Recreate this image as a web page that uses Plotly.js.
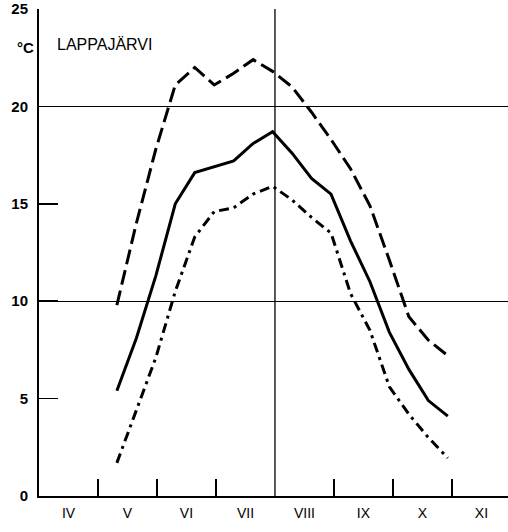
<!DOCTYPE html>
<html>
<head>
<meta charset="utf-8">
<script src="https://cdn.plot.ly/plotly-3.0.1.min.js"></script>
<style>html,body{margin:0;padding:0;background:#fff;}#chart{width:508px;height:532px;}</style>
</head>
<body>
<div id="chart"></div>
<script>
// x positions in month units (4 = 1 April, 5 = 1 May, ...), ends of ten-day periods
var xPos = [5.32, 5.65, 5.98, 6.31, 6.64, 6.97, 7.30, 7.63, 7.96, 8.29, 8.62, 8.95, 9.28, 9.61, 9.94, 10.27, 10.60, 10.93];
var tMax  = [9.8, 14.0, 17.8, 21.1, 22.0, 21.1, 21.7, 22.4, 21.8, 21.0, 19.7, 18.3, 16.8, 14.9, 12.1, 9.2, 8.0, 7.2];
var tMean = [5.4, 8.1, 11.3, 15.0, 16.6, 16.9, 17.2, 18.1, 18.7, 17.6, 16.3, 15.5, 13.1, 11.0, 8.4, 6.5, 4.9, 4.1];
var tMin  = [1.7, 4.4, 7.1, 10.5, 13.3, 14.6, 14.8, 15.5, 15.9, 15.2, 14.3, 13.5, 10.4, 8.5, 5.6, 4.2, 3.0, 1.95];

var monthLabelPos = [4.5, 5.5, 6.5, 7.5, 8.5, 9.5, 10.5, 11.5];
var monthLabels = ["IV", "V", "VI", "VII", "VIII", "IX", "X", "XI"];
var monthBounds = [5, 6, 7, 9, 10, 11];
var yTicks = [0, 5, 10, 15, 20, 25];
var yGrid = [10, 20, 25];

var FONT = "'Liberation Sans', Arial, sans-serif";

var traces = [
  {x: xPos, y: tMax, mode: 'lines', line: {color: '#000', width: 3, dash: '15px,6px'}, hoverinfo: 'skip'},
  {x: xPos, y: tMean, mode: 'lines', line: {color: '#000', width: 3}, hoverinfo: 'skip'},
  {x: xPos, y: tMin, mode: 'lines', line: {color: '#000', width: 3, dash: '10px,5px,3px,5px'}, hoverinfo: 'skip'},
  {x: [null], y: [null], xaxis: 'x2', yaxis: 'y2', mode: 'lines', hoverinfo: 'skip'}
];

var layout = {
  width: 508, height: 532,
  margin: {l: 39, r: 0, t: 9, b: 36},
  paper_bgcolor: '#fff', plot_bgcolor: '#fff',
  showlegend: false,
  font: {family: FONT, color: '#000', size: 14},
  xaxis: {
    range: [4, 11.95], tickvals: monthLabelPos, ticktext: monthLabels,
    ticks: '', showgrid: false, zeroline: false,
    showline: true, linecolor: '#000', linewidth: 2,
    ticklabelstandoff: 3,
    tickfont: {family: FONT, size: 14, color: '#000'}
  },
  xaxis2: {
    overlaying: 'x', matches: 'x', anchor: 'y2', side: 'bottom',
    tickvals: monthBounds, ticks: 'inside', ticklen: 17, tickwidth: 1.5, tickcolor: '#000',
    showticklabels: false, showgrid: false, zeroline: false, showline: false
  },
  yaxis: {
    range: [0, 25], tickvals: yTicks, ticks: 'inside', ticklen: 19, tickwidth: 1.5, tickcolor: '#000',
    showgrid: false, zeroline: false,
    showline: true, linecolor: '#000', linewidth: 2,
    ticklabelstandoff: 6,
    tickfont: {family: FONT, size: 15, color: '#000', weight: 'bold'}
  },
  yaxis2: {
    overlaying: 'y', matches: 'y', anchor: 'x2',
    tickvals: yGrid, showticklabels: false, ticks: '',
    showgrid: true, gridcolor: '#000', gridwidth: 1.3, zeroline: false, showline: false
  },
  shapes: [
    {type: 'line', xref: 'x', yref: 'paper', x0: 8, x1: 8, y0: 0, y1: 1, line: {color: '#000', width: 1.3}}
  ],
  annotations: [
    {text: '°C', xref: 'paper', yref: 'y', x: -0.006, y: 23.0, xanchor: 'right', yanchor: 'middle', showarrow: false,
     font: {family: FONT, size: 15, color: '#000', weight: 'bold'}},
    {text: 'LAPPAJÄRVI', xref: 'paper', yref: 'y', x: 0.035, y: 23.2, xanchor: 'left', yanchor: 'middle', showarrow: false,
     font: {family: FONT, size: 16, color: '#000'}}
  ]
};

Plotly.newPlot('chart', traces, layout, {displayModeBar: false, staticPlot: true});
</script>
</body>
</html>
